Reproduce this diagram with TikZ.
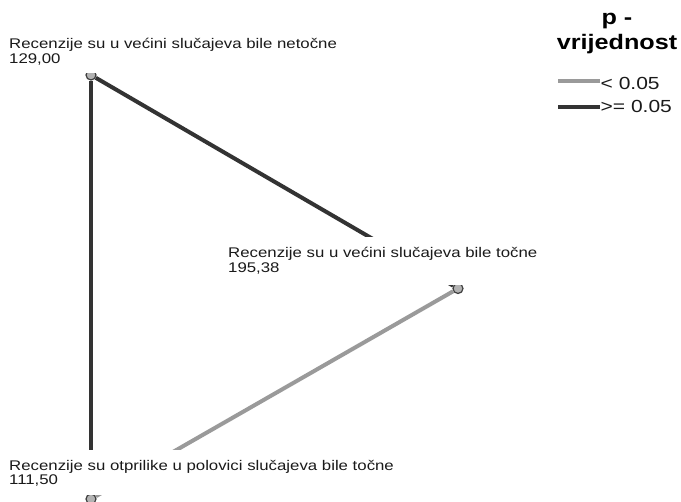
\documentclass[tikz,border=0pt]{standalone}
\usepackage{fontspec}
\setmainfont{Liberation Sans}[FakeStretch=1.2]
\definecolor{darkln}{HTML}{333333}
\definecolor{lightln}{HTML}{9A9A9A}
\definecolor{txt}{HTML}{1A1A1A}
\newcommand{\lblfont}{\fontsize{14}{14.5}\selectfont}
\newcommand{\topstrut}{\rule{0pt}{20.5pt}}
\newcommand{\botstrut}{\rule[-10pt]{0pt}{10pt}}
\newcommand{\botstrutb}{\rule[-13pt]{0pt}{13pt}}
\tikzset{
  lbl/.style={anchor=north west, inner xsep=2pt, inner ysep=0pt, fill=white, align=left, font=\lblfont, text=txt},
  ptnode/.style={circle, minimum size=10pt, inner sep=0pt, fill=gray!60, draw=black!75, line width=1.2pt},
  darkedge/.style={draw=darkln, line width=4pt},
  lightedge/.style={draw=lightln, line width=4pt},
  legtitle/.style={font=\bfseries\fontsize{21}{25}\selectfont, text=black, align=center, inner sep=0pt},
  legtext/.style={font=\fontsize{17.5}{20}\selectfont, text=txt, anchor=base west, inner sep=0pt},
}
\begin{document}
\begin{tikzpicture}[x=1pt,y=-1pt]
\useasboundingbox[fill=white] (0,0) rectangle (681,502);
% points
\node[ptnode] (p1) at (91,75) {};
\node[ptnode] (p2) at (458,288.5) {};
\node[ptnode] (p3) at (91,499) {};
% connectors
\draw[darkedge] (p1) -- (p2);
\draw[darkedge] (p1) -- (p3);
\draw[lightedge] (p2) -- (p3);
% labels
\node[lbl] (l1) at (7,48.5-20.5) {\topstrut Recenzije su u većini slučajeva bile netočne\\129,00\botstrut};
\node[lbl] (l2) at (226,257.5-20.5) {\topstrut Recenzije su u većini slučajeva bile točne\\195,38\botstrutb};
\node[lbl] (l3) at (7,470-20.5) {\topstrut Recenzije su otprilike u polovici slučajeva bile točne\\111,50\botstrut};
% legend
\node[legtitle, anchor=base] (lt1) at (617,25) {p -};
\node[legtitle, anchor=base] (lt2) at (617,50) {vrijednost};
\coordinate (a1) at (558,81);
\coordinate (a2) at (600,81);
\coordinate (b1) at (558,107);
\coordinate (b2) at (600,107);
\draw[lightedge, line width=4.5pt] (a1) -- (a2);
\draw[darkedge, line width=4.5pt] (b1) -- (b2);
\node[legtext] (t1) at (600.5,90) {< 0.05};
\node[legtext] (t2) at (600.5,113) {>= 0.05};
\end{tikzpicture}
\end{document}
